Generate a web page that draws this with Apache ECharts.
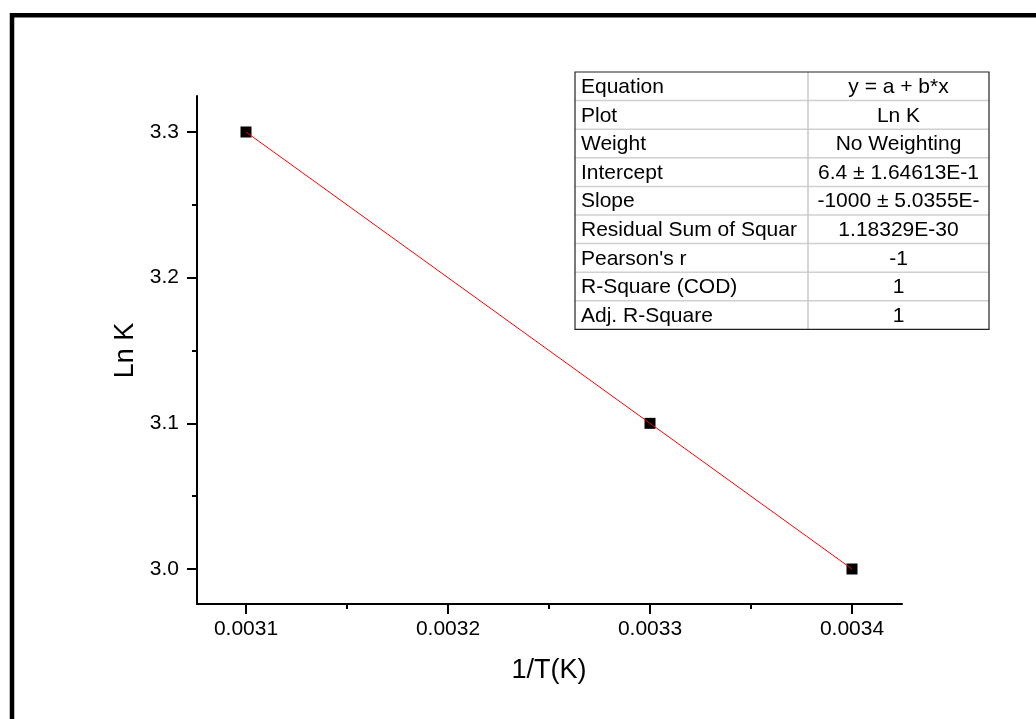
<!DOCTYPE html>
<html>
<head>
<meta charset="utf-8">
<script src="https://cdn.jsdelivr.net/npm/echarts@6/dist/echarts.min.js"></script>
<style>
  html, body { margin: 0; padding: 0; background: #fff; }
  #main { width: 1036px; height: 719px; }
</style>
</head>
<body>
<div id="main"></div>
<script>
var invT = [0.0031, 0.0033, 0.0034];
var lnK = [3.3, 3.1, 3.0];

var xTicks = [0.0031, 0.0032, 0.0033, 0.0034];
var yTicks = [3.0, 3.1, 3.2, 3.3];

var tableKeys = ['Equation', 'Plot', 'Weight', 'Intercept', 'Slope',
  'Residual Sum of Squar', "Pearson's r", 'R-Square (COD)', 'Adj. R-Square'];
var tableValues = ['y = a + b*x', 'Ln K', 'No Weighting', '6.4 \u00b1 1.64613E-1',
  '-1000 \u00b1 5.0355E-', '1.18329E-30', '-1', '1', '1'];

var font = 'Liberation Sans, Arial, sans-serif';

// fit table, drawn as graphic
var tx0 = 575, tx1 = 808, tx2 = 989, ty0 = 72, rowH = 28.6;
var graphics = [];
// page frame (only left/top edges are visible)
graphics.push({
  type: 'rect', left: 9.5, top: 12.7,
  shape: { x: 0, y: 0, width: 1200, height: 900 },
  style: { fill: 'none', stroke: '#000', lineWidth: 4.5 },
  silent: true
});
for (var i = 1; i < tableKeys.length; i++) {
  graphics.push({
    type: 'line',
    shape: { x1: tx0, y1: ty0 + i * rowH, x2: tx2, y2: ty0 + i * rowH },
    style: { stroke: '#d0d0d0', lineWidth: 1.5 }
  });
}
graphics.push({
  type: 'line',
  shape: { x1: tx1, y1: ty0, x2: tx1, y2: ty0 + tableKeys.length * rowH },
  style: { stroke: '#c8c8c8', lineWidth: 1.5 }
});
graphics.push({
  type: 'rect',
  shape: { x: tx0, y: ty0, width: tx2 - tx0, height: tableKeys.length * rowH },
  style: { fill: 'none', stroke: '#222', lineWidth: 1.2 }
});
for (var j = 0; j < tableKeys.length; j++) {
  graphics.push({
    type: 'text', x: tx0 + 6, y: ty0 + j * rowH + rowH / 2 + 1,
    style: { text: tableKeys[j], fill: '#000', font: '21px ' + font,
      textAlign: 'left', textVerticalAlign: 'middle' }
  });
  graphics.push({
    type: 'text', x: (tx1 + tx2) / 2, y: ty0 + j * rowH + rowH / 2 + 1,
    style: { text: tableValues[j], fill: '#000', font: '21px ' + font,
      textAlign: 'center', textVerticalAlign: 'middle' }
  });
}

var myChart = echarts.init(document.getElementById('main'));
var option = {
  backgroundColor: '#fff',
  animation: false,
  textStyle: { fontFamily: font },
  graphic: graphics,
  grid: [
    // axis lines only
    { left: 197, right: 134, top: 96, bottom: 115 },
    // data + ticks
    { left: 246, right: 184, top: 132, bottom: 150 }
  ],
  xAxis: [
    {
      gridIndex: 0, type: 'value', min: 0, max: 1,
      axisLine: { show: true, onZero: false, lineStyle: { color: '#000', width: 2 } },
      axisTick: { show: false }, axisLabel: { show: false }, splitLine: { show: false }
    },
    {
      gridIndex: 1, type: 'value',
      min: xTicks[0], max: xTicks[xTicks.length - 1], interval: 0.0001,
      offset: 35,
      axisLine: { show: false, onZero: false },
      axisTick: { show: true, length: 10, lineStyle: { color: '#000', width: 2 } },
      minorTick: { show: true, splitNumber: 2, length: 5, lineStyle: { color: '#000', width: 2 } },
      splitLine: { show: false },
      axisLabel: {
        color: '#000', fontSize: 21, margin: 15, fontFamily: font,
        formatter: function (v) { return v.toFixed(4); }
      },
      name: '1/T(K)', nameLocation: 'middle', nameGap: 53,
      nameTextStyle: { color: '#000', fontSize: 27, fontFamily: font }
    }
  ],
  yAxis: [
    {
      gridIndex: 0, type: 'value', min: 0, max: 1,
      axisLine: { show: true, onZero: false, lineStyle: { color: '#000', width: 2 } },
      axisTick: { show: false }, axisLabel: { show: false }, splitLine: { show: false }
    },
    {
      gridIndex: 1, type: 'value',
      min: yTicks[0], max: yTicks[yTicks.length - 1], interval: 0.1,
      offset: 49,
      axisLine: { show: false, onZero: false },
      axisTick: { show: true, length: 10, lineStyle: { color: '#000', width: 2 } },
      minorTick: { show: true, splitNumber: 2, length: 5, lineStyle: { color: '#000', width: 2 } },
      splitLine: { show: false },
      axisLabel: {
        color: '#000', fontSize: 21, margin: 18, fontFamily: font,
        formatter: function (v) { return v.toFixed(1); }
      },
      name: 'Ln K', nameLocation: 'middle', nameGap: 57,
      nameTextStyle: { color: '#000', fontSize: 27, fontFamily: font }
    }
  ],
  series: [
    {
      type: 'scatter', xAxisIndex: 1, yAxisIndex: 1,
      symbol: 'rect', symbolSize: 11, clip: false,
      itemStyle: { color: '#000', opacity: 1 },
      data: invT.map(function (x, k) { return [x, lnK[k]]; })
    },
    {
      type: 'line', xAxisIndex: 1, yAxisIndex: 1,
      symbol: 'none', clip: false,
      lineStyle: { color: '#ff0000', width: 1 },
      data: invT.map(function (x, k) { return [x, lnK[k]]; })
    }
  ]
};
myChart.setOption(option);
</script>
</body>
</html>
